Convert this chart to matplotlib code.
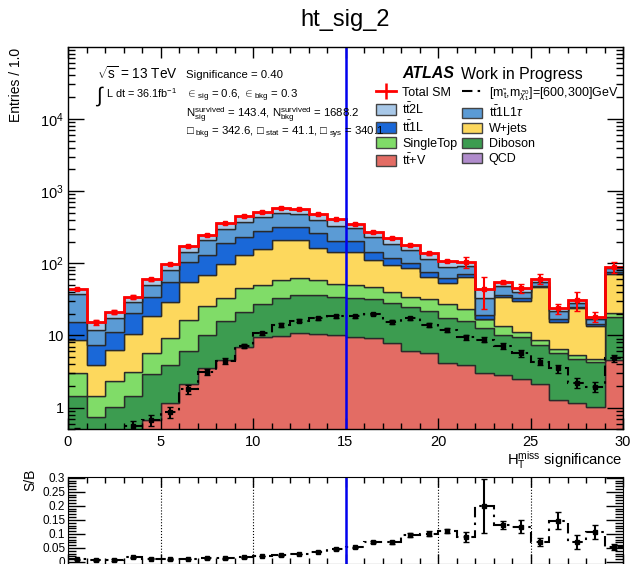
import numpy as np
import matplotlib
matplotlib.use("Agg")
import matplotlib.pyplot as plt
from matplotlib.patches import Patch
from matplotlib.lines import Line2D
from matplotlib.ticker import MultipleLocator, LogLocator, NullFormatter

plt.rcParams['font.family'] = ['Liberation Sans', 'DejaVu Sans']
plt.rcParams['mathtext.fontset'] = 'custom'
plt.rcParams['mathtext.rm'] = 'Liberation Sans'
plt.rcParams['mathtext.it'] = 'Liberation Sans:italic'
plt.rcParams['mathtext.bf'] = 'Liberation Sans:bold'

# HT miss significance, 30 bins of width 1
edges = np.arange(0, 31, 1.0)
centers = edges[:-1] + 0.5

# background yields per bin (stacked bottom -> top)
ttV = [0.2, 0.15, 0.25, 0.4, 0.68, 1.17, 2.13, 3.58, 4.58, 7.0, 9.44, 9.84, 10.9, 10.5, 10.2,
       9.6, 9.15, 7.95, 6.16, 5.78, 4.2, 3.9, 3.05, 2.84, 2.5, 2.13, 1.28, 1.17, 1.03, 4.58]
diboson = [1.25, 0.6, 0.77, 1.05, 2.25, 2.73, 3.97, 6.6, 11.3, 14.1, 17.9, 22.7, 24.9, 25.9, 23.9,
           23.5, 22.9, 20.3, 18.6, 16.0, 13.3, 12.0, 9.55, 7.46, 7.1, 5.14, 4.35, 3.48, 3.27, 13.6]
singletop = [1.54, 0.7, 1.32, 1.7, 2.74, 5.33, 10.3, 15.4, 17.1, 24.4, 22.7, 26.2, 26.0, 21.4, 16.8,
             17.4, 15.4, 12.2, 9.9, 10.2, 9.4, 7.4, 4.2, 3.2, 1.4, 1.4, 0.87, 0.63, 0.43, 2.3]
wjets = [5.68, 2.45, 4.02, 7.35, 12.9, 20.2, 38.3, 43.3, 65.7, 84.5, 110, 149, 150, 105, 94,
         94.5, 63.6, 54.3, 50.6, 33.2, 27, 41.9, 0, 20.3, 19.3, 37.8, 9.0, 18.5, 9.0, 49.9]
tt1L = [6.83, 3.48, 4.74, 10.0, 15.9, 26.2, 49.3, 61.1, 94.3, 104, 120, 113, 109, 97, 61,
        57, 34, 22.3, 14.7, 11.3, 8.1, 5.2, 2.4, 2.6, 2.4, 2.0, 1.3, 1.2, 0.7, 6.1]
tt1L1tau = [22.1, 4.52, 6.2, 8.9, 15.5, 25.1, 41, 80, 106, 143, 162, 172, 161, 138, 125,
            103, 84, 68, 53, 37.5, 26.1, 21.4, 13.5, 12.1, 7.7, 7.1, 5.0, 3.5, 2.4, 8.8]
tt2L = [6.5, 3.3, 3.8, 5.1, 10.0, 17.1, 29, 33, 59, 75, 72, 96, 83, 84, 76,
        48, 45, 37, 26, 24, 20, 13, 10.9, 6.1, 4.7, 5.0, 2.0, 2.5, 1.4, 4.5]
qcd = [0.0] * 30

total_err = [2.0, 1.3, 1.5, 2.0, 3.0, 4.0, 6.0, 8.0, 9.0, 10, 11, 13, 12, 11, 10,
             9, 8, 7, 6, 6, 4, 19, 20.5, 3, 6.5, 9.5, 3.8, 9, 2.9, 16]

# signal [600,300]
signal = [0.42, 0.1, 0.16, 0.55, 0.68, 0.88, 1.82, 3.15, 4.48, 7.2, 10.7, 14.0, 16.0, 17.3, 18.6,
          18.4, 19.9, 15.5, 17.3, 14.0, 11.9, 9.4, 8.7, 7.2, 5.7, 4.34, 3.5, 2.22, 1.95, 4.83]
signal_err = [0.1, 0.05, 0.06, 0.1, 0.12, 0.15, 0.25, 0.3, 0.4, 0.5, 0.6, 0.7, 0.8, 0.8, 0.9,
              0.9, 0.9, 0.9, 0.9, 0.8, 0.8, 0.7, 0.7, 0.6, 0.6, 0.5, 0.45, 0.35, 0.3, 0.5]

stack = [
    (ttV, '#e36c64'),
    (diboson, '#3c9c50'),
    (singletop, '#80dc68'),
    (wjets, '#fdd85d'),
    (tt1L, '#1a68d8'),
    (tt1L1tau, '#5b9bd5'),
    (tt2L, '#a8c8e8'),
]
qcd_color = '#b08ccc'

fig = plt.figure(figsize=(6.35, 5.64), dpi=100)
ax = fig.add_axes([68 / 635, 1 - 429.4 / 564, 555 / 635, (429.4 - 46.7) / 564])
rax = fig.add_axes([68 / 635, 1 - 564.2 / 564, 555 / 635, 87.2 / 564])

base = np.full(30, 1e-3)
for vals, col in stack:
    top = base + np.array(vals)
    ax.stairs(top, edges, baseline=base, fill=True, facecolor=col,
              edgecolor='#2a2a2a', lw=1.0)
    base = top
total = base - 1e-3

dashdot = (0, (5, 2.5, 1.2, 2.5))

# total SM
ax.stairs(total, edges, baseline=None, color='red', lw=2)
ax.errorbar(centers, total, yerr=total_err, fmt='s', ms=3, color='red',
            lw=1.5, capsize=2, ls='none')

# signal
ax.stairs(signal, edges, baseline=None, color='black', lw=1.5, ls=dashdot)
ax.errorbar(centers, signal, yerr=signal_err, fmt='s', ms=2.5, color='black',
            lw=1.5, capsize=2, ls='none')

ax.axvline(15, color='#0000ee', lw=1.8)

ax.set_xlim(0, 30)
ax.set_yscale('log')
ax.set_ylim(0.5, 1e5)
ax.xaxis.set_major_locator(MultipleLocator(5))
ax.xaxis.set_minor_locator(MultipleLocator(1))
ax.set_yticks([1, 10, 100, 1000, 10000])
ax.set_yticklabels(['1', '10', '10$^{2}$', '10$^{3}$', '10$^{4}$'])
ax.yaxis.set_minor_locator(LogLocator(base=10, subs=np.arange(2, 10)))
ax.yaxis.set_minor_formatter(NullFormatter())
ax.tick_params(which='both', direction='in', top=True, right=True, labelsize=10.5, width=1)
ax.tick_params(axis='x', which='major', length=8, pad=4)
ax.tick_params(axis='x', which='minor', length=4.3)
ax.tick_params(axis='y', which='major', length=11.5, pad=3)
ax.tick_params(axis='y', which='minor', length=5)
for s in ax.spines.values():
    s.set_linewidth(1.0)

# ratio panel
total_arr = np.array(total)
sig_arr = np.array(signal)
sb = sig_arr / total_arr
sb_err = sb * np.sqrt((np.array(signal_err) / sig_arr) ** 2 + (np.array(total_err) / total_arr) ** 2)

for xg in [5, 10, 20, 25]:
    rax.axvline(xg, color='black', ls=':', lw=0.8)
rax.stairs(sb, edges, baseline=None, color='black', lw=1.5, ls=dashdot)
rax.errorbar(centers, sb, yerr=sb_err, fmt='s', ms=2.5, color='black',
             lw=1.5, capsize=2, ls='none')
rax.axvline(15, color='#0000ee', lw=1.8)
rax.set_xlim(0, 30)
rax.set_ylim(-0.008, 0.303)
rax.set_yticks([0, 0.05, 0.1, 0.15, 0.2, 0.25, 0.3])
rax.set_yticklabels(['0', '0.05', '0.1', '0.15', '0.2', '0.25', '0.3'])
rax.yaxis.set_minor_locator(MultipleLocator(0.01))
rax.xaxis.set_major_locator(MultipleLocator(5))
rax.xaxis.set_minor_locator(MultipleLocator(1))
rax.tick_params(which='both', direction='in', top=True, right=True, labelsize=8.5, width=1)
rax.tick_params(axis='x', which='major', length=7.5)
rax.tick_params(axis='x', which='minor', length=4)
rax.tick_params(axis='y', which='major', length=12, pad=2)
rax.tick_params(axis='y', which='minor', length=6)
rax.set_xticklabels([])

# legend
h_total = (Line2D([], [], color='red', lw=2),
           Line2D([], [], color='red', marker='|', ms=11, mew=1.8, ls='none'))
h_sig = Line2D([], [], color='black', lw=1.5, ls=dashdot)
def box(c):
    return Patch(facecolor=c, edgecolor='#444444', lw=1)
handles = [h_total, box(stack[6][1]), box(stack[4][1]), box(stack[2][1]), box(stack[0][1]),
           h_sig, box(stack[5][1]), box(stack[3][1]), box(stack[1][1]), box(qcd_color)]
labels = ['Total SM', r't$\bar{\rm t}$2L', r't$\bar{\rm t}$1L', 'SingleTop', r't$\bar{\rm t}$+V',
          r'[m$_{\tilde{\rm t}}$,m$_{\tilde{\chi}^{0}_{1}}$]=[600,300]GeV', r't$\bar{\rm t}$1L1$\tau$',
          'W+jets', 'Diboson', 'QCD']
ax.legend(handles, labels, ncol=2, loc='upper left', bbox_to_anchor=((376 - 68) / 555, (429.4 - 85) / 382.7),
          frameon=False, fontsize=9, handlelength=1.6, handleheight=0.9, handletextpad=0.5,
          labelspacing=0.2, columnspacing=0.4, borderpad=0, borderaxespad=0)

# text block
def fx(px):
    return px / 635
def fy(py):
    return 1 - py / 564

fig.text(fx(345), fy(20), 'ht_sig_2', ha='center', va='center', fontsize=17)
fig.text(fx(97), fy(74), r'$\sqrt{\rm s}$ = 13 TeV', ha='left', va='center', fontsize=9.8)
fig.text(fx(96), fy(96), '\u222b', ha='left', va='center', fontsize=15)
fig.text(fx(106), fy(93), 'L dt = 36.1fb$^{-1}$', ha='left', va='center', fontsize=7.8)
fig.text(fx(186), fy(75), 'Significance = 0.40', ha='left', va='center', fontsize=8.2)
fig.text(fx(186), fy(96), r'$\in_{\rm sig}$ = 0.6, $\in_{\rm bkg}$ = 0.3', ha='left', va='center', fontsize=8.2)
fig.text(fx(186), fy(115), r'N$^{\rm survived}_{\rm sig}$ = 143.4, N$^{\rm survived}_{\rm bkg}$ = 1688.2',
         ha='left', va='center', fontsize=8.2)
fig.text(fx(186), fy(133), '\u25a1$_{\\rm \\ bkg}$ = 342.6, \u25a1$_{\\rm \\ stat}$ = 41.1, \u25a1$_{\\rm \\ sys}$ = 340.1',
         ha='left', va='center', fontsize=8.2)
fig.text(fx(402), fy(74), 'ATLAS', ha='left', va='center', fontsize=11.4, fontweight='bold', fontstyle='italic')
fig.text(fx(461), fy(74), 'Work in Progress', ha='left', va='center', fontsize=11.4)

fig.text(fx(16), fy(48), 'Entries / 1.0', rotation=90, ha='center', va='top', fontsize=10)
fig.text(fx(622), fy(460), r'H$_{\rm T}^{\rm miss}$ significance', ha='right', va='center', fontsize=10.6)
fig.text(fx(30), fy(480), 'S/B', rotation=90, ha='center', va='center', fontsize=10)

fig.savefig('out.png', dpi=100)
